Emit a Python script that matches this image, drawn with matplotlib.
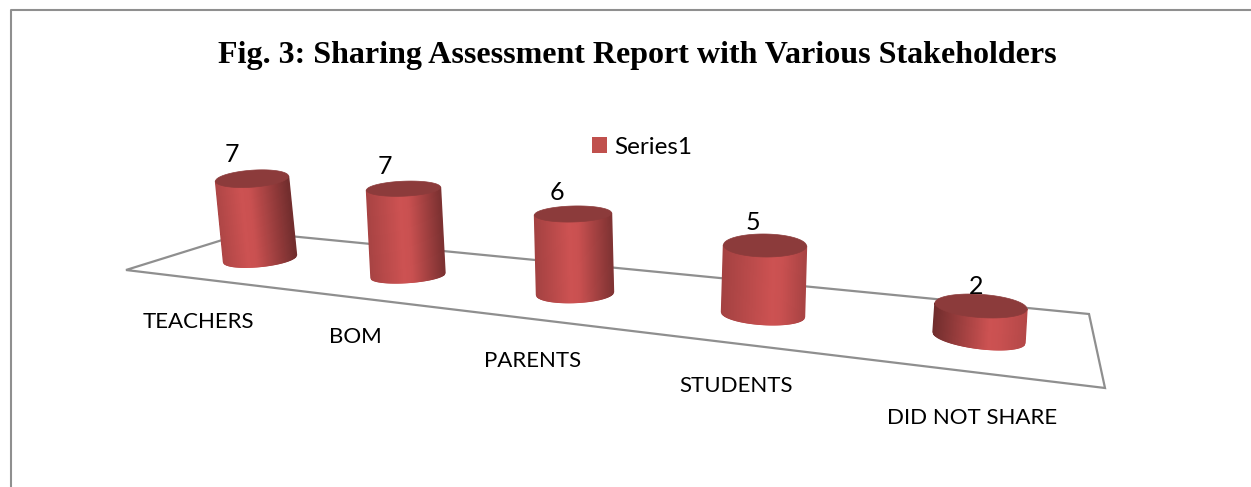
import numpy as np
import matplotlib
matplotlib.use("Agg")
import matplotlib.pyplot as plt
from matplotlib.collections import PolyCollection
from matplotlib.patches import Patch, Polygon

categories = ["TEACHERS", "BOM", "PARENTS", "STUDENTS", "DID NOT SHARE"]
values = [7, 7, 6, 5, 2]
series_name = "Series1"
title = "Fig. 3: Sharing Assessment Report with Various Stakeholders"

# perspective layout, in pixels of the page
base_x = [260, 408, 575, 763, 979]
base_y = [258.5, 275.5, 293.5, 314.5, 337.5]
unit_px = [11.4, 12.4, 13.25, 13.8, 15.75]
lean = [-0.10, -0.052, -0.025, 0.029, 0.063]
half_w = [36.5, 37, 38.5, 41.5, 46]
tilt_top = [-2.5, -1.5, -1, 0.5, 3]
tilt_base = [-3.5, -2.5, -1.5, 2.5, 5.5]
minor_top = [8.5, 7.5, 8, 11.5, 11.6]
minor_base = [8, 7, 9, 10, 11]
peak = [0.35, 0.45, 0.45, 0.6, 0.6]
left_shade = [0.85, 0.82, 0.8, 0.8, 0.55]
right_shade = [0.55, 0.6, 0.62, 0.82, 0.88]
label_dx = [-20, -18.5, -16, -12, -5]
label_dy = [-24, -22.5, -21, -22.5, -19]
cat_x = [198, 355, 533, 736, 972]
cat_y = [322, 337, 361, 386, 418]

floor = [(126, 270), (248, 232), (1089, 314), (1105, 388)]

RED = np.array([205, 82, 82]) / 255
TOP = "#8c3b3b"
GREY = "#8f8f8f"

plt.rcParams["font.family"] = ["Lato", "DejaVu Sans"]

fig = plt.figure(figsize=(12.51, 4.87), dpi=100)
ax = fig.add_axes([0, 0, 1, 1])
ax.set_xlim(0, 1251)
ax.set_ylim(487, 0)
ax.axis("off")

# page frame
ax.plot([11, 11, 1251], [487, 10, 10], color=GREY, lw=1.5, solid_capstyle="butt")

ax.add_patch(Polygon(floor, closed=True, fill=False, edgecolor=GREY, lw=1.6, zorder=1))

for i, v in enumerate(values):
    h = v * unit_px[i]
    top_x = base_x[i] + lean[i] * h
    top_y = base_y[i] - h

    # even steps across the width, so the strips stay about one pixel wide
    c = np.linspace(-1, 1, int(half_w[i]) * 2)
    s = np.sqrt(1 - c ** 2)
    xt = top_x + half_w[i] * c
    yt = top_y + tilt_top[i] * c + minor_top[i] * s
    xb = base_x[i] + half_w[i] * c
    yb = base_y[i] + tilt_base[i] * c + minor_base[i] * s

    u = (1 + c) / 2
    shade = np.interp(u, [0, peak[i], peak[i] + 0.12, 1], [left_shade[i], 1, 0.98, right_shade[i]])
    strips = []
    cols = []
    for j in range(len(c) - 1):
        strips.append([(xt[j], yt[j]), (xt[j + 1], yt[j + 1]), (xb[j + 1], yb[j + 1]), (xb[j], yb[j])])
        cols.append(RED * shade[j])
    ax.add_collection(PolyCollection(strips, facecolors=cols, edgecolors=cols, lw=1.0, zorder=2 + i))

    tt = np.linspace(0, 2 * np.pi, 120)
    cap = np.column_stack([
        top_x + half_w[i] * np.cos(tt),
        top_y + tilt_top[i] * np.cos(tt) + minor_top[i] * np.sin(tt),
    ])
    ax.add_patch(Polygon(cap, closed=True, facecolor=TOP, edgecolor=TOP, lw=0.5, zorder=2 + i))

    ax.annotate(str(v), xy=(top_x, top_y), xytext=(top_x + label_dx[i], top_y + label_dy[i]),
                textcoords="data", ha="center", va="center", fontsize=18, color="black", zorder=20)

for name, x, y in zip(categories, cat_x, cat_y):
    ax.text(x, y, name, ha="center", va="center", fontsize=16, color="black")

ax.text(637, 55, title, ha="center", va="center", fontsize=23, fontweight="bold",
        family="Liberation Serif", color="black")

ax.legend(handles=[Patch(facecolor="#c0504d", label=series_name)], loc="center",
          bbox_to_anchor=(642, 147), bbox_transform=ax.transData, frameon=False,
          fontsize=17.5, handlelength=0.62, handleheight=0.62, handletextpad=0.3, borderpad=0)

fig.savefig("out.png", dpi=100)
